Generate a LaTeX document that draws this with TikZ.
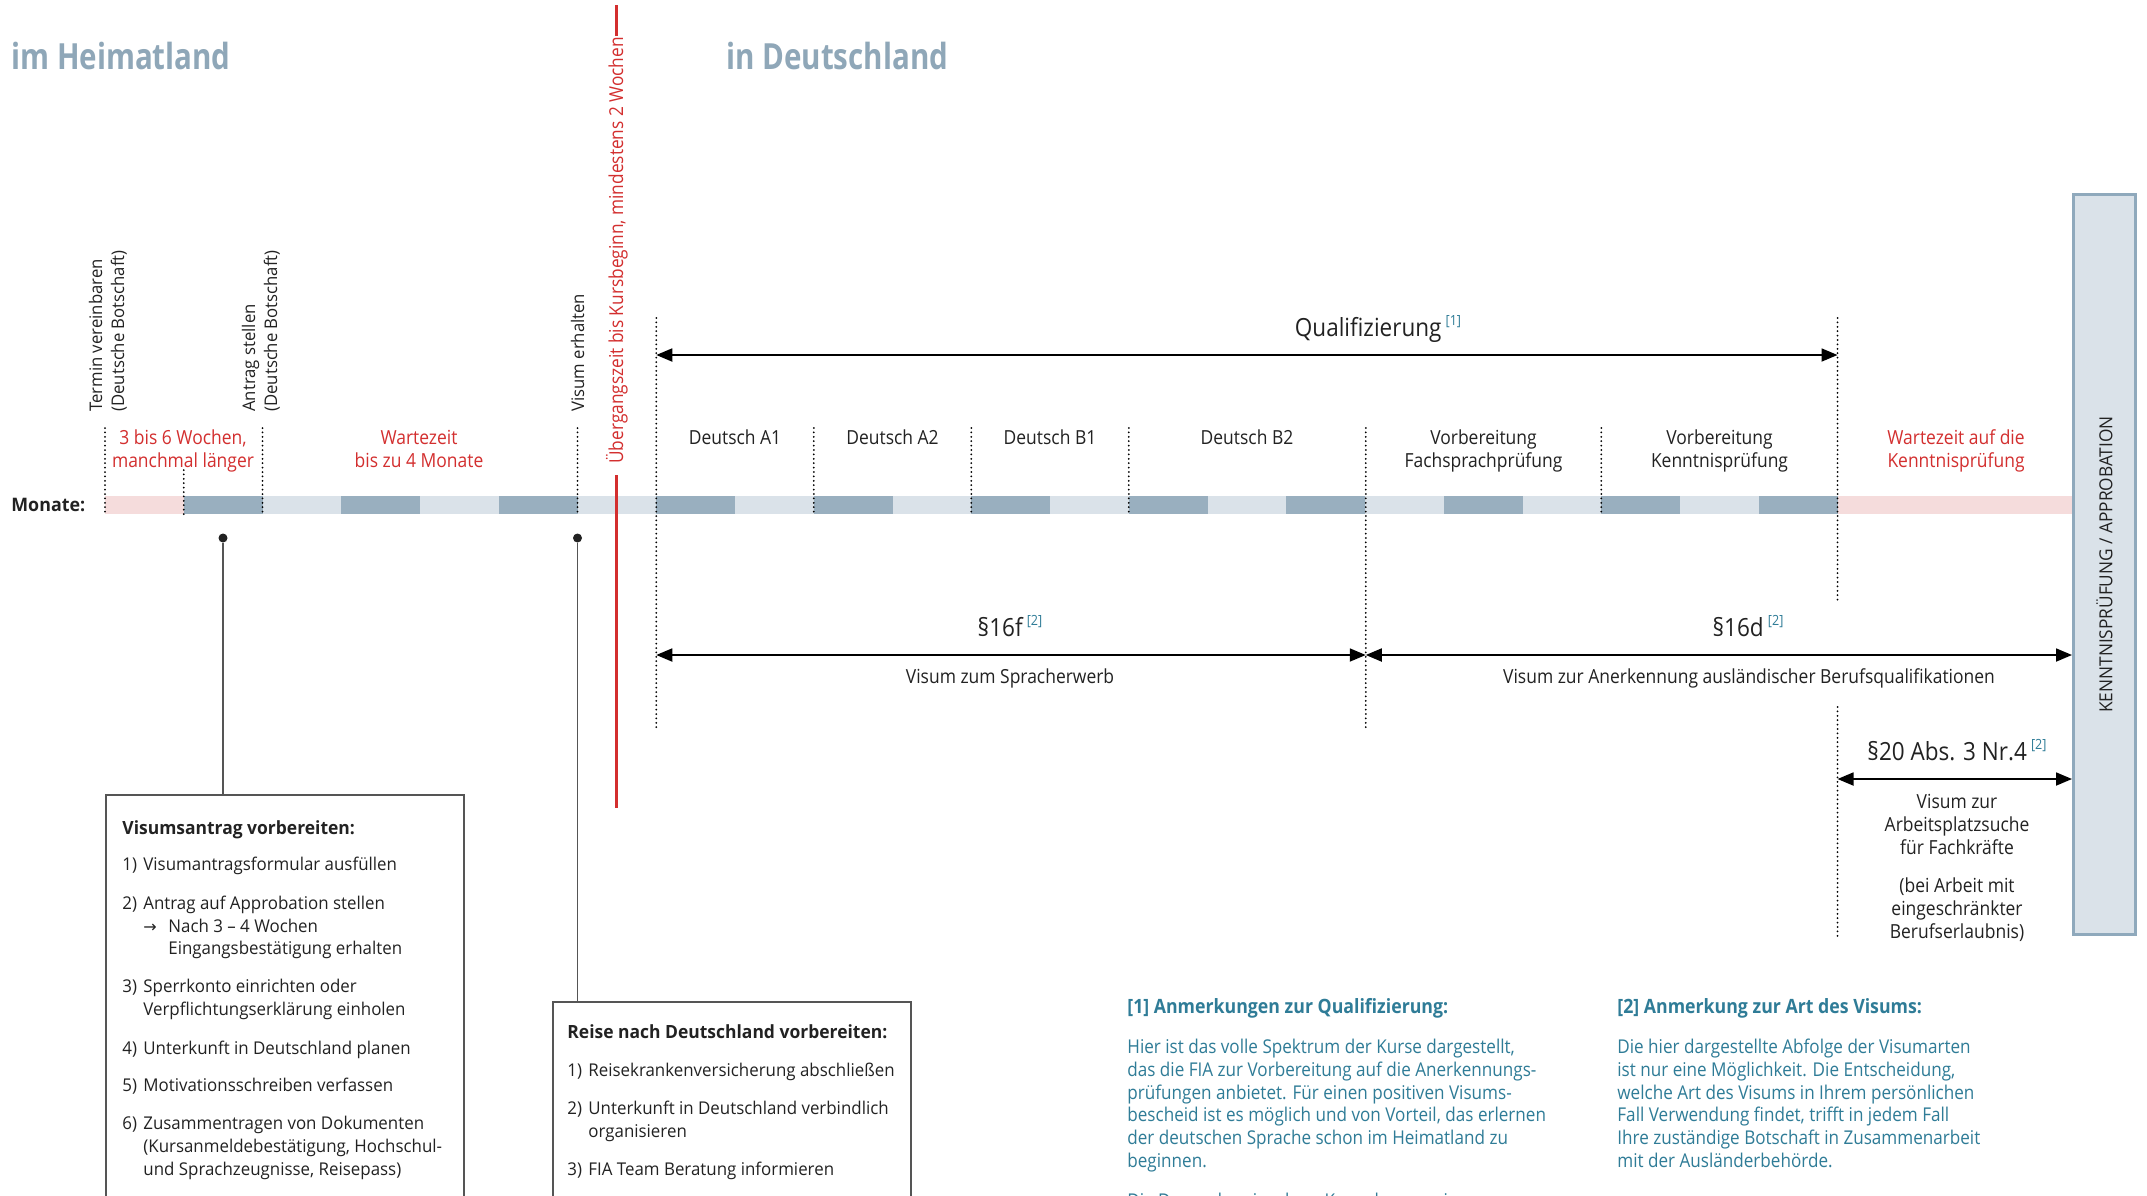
\documentclass[tikz,border=0pt]{standalone}
\usepackage{fontspec}
\setmainfont{Open Sans}
\newfontfamily\condfont[FakeStretch=0.9]{Open Sans}
\newfontfamily\regfont[FakeStretch=0.96]{Open Sans}
\newfontfamily\titlefont[FakeStretch=0.82]{Open Sans}
\newfontfamily\symfont{DejaVu Sans}
\usetikzlibrary{arrows.meta}
\definecolor{barDark}{HTML}{99AFBF}
\definecolor{barLight}{HTML}{DAE2E9}
\definecolor{barPink}{HTML}{F5DCDC}
\definecolor{redC}{HTML}{D32F2F}
\definecolor{titleC}{HTML}{8FA7B8}
\definecolor{noteC}{HTML}{2F7C97}
\definecolor{textC}{HTML}{222222}
\definecolor{boxBorder}{HTML}{8FA9BC}
\definecolor{boxEdge}{HTML}{555555}
\newcommand\fnref[1]{\,{\color{noteC}\condfont\fontsize{7}{8}\selectfont\raisebox{5.5pt}{[#1]}}}
\begin{document}
\begin{tikzpicture}[x=0.5pt,y=-0.5pt,
  lbl/.style={font=\condfont\fontsize{9.7}{11.5}\selectfont, text=textC, inner sep=0, anchor=base},
  redlbl/.style={lbl, text=redC},
  big/.style={font=\condfont\fontsize{12.5}{14}\selectfont, text=textC, inner sep=0, anchor=base},
  rot/.style={font=\regfont\fontsize{8.7}{10}\selectfont, rotate=90, anchor=base west, inner sep=0, text=textC},
  boxtxt/.style={font=\regfont\fontsize{8.8}{11}\selectfont, anchor=base west, inner sep=0, text=textC},
  boxhead/.style={boxtxt, font=\regfont\bfseries\fontsize{9.1}{11}\selectfont},
  note/.style={font=\condfont\fontsize{9.5}{11.5}\selectfont, anchor=base west, inner sep=0, text=noteC},
  notehead/.style={note, font=\condfont\bfseries\fontsize{9.85}{11.5}\selectfont},
  dots/.style={line width=1pt, dash pattern=on 0pt off 2.2pt, line cap=round, black},
  dimarrow/.style={line width=0.9pt, black, {Triangle[length=8pt,width=6.5pt]}-{Triangle[length=8pt,width=6.5pt]}},
  conn/.style={line width=0.7pt, boxEdge},
  infobox/.style={draw=boxEdge, line width=0.8pt, anchor=north west, inner sep=0},
  title/.style={font=\titlefont\bfseries\fontsize{18}{20}\selectfont, text=titleC, anchor=base west, inner sep=0},
]
\clip (0,0) rectangle (2147,1195);
\fill[white] (0,0) rectangle (2147,1195);

% titles
\node[title] (tHeim) at (11,69) {im Heimatland};
\node[title] (tDeu) at (726,69) {in Deutschland};

% month bar
\node[font=\regfont\bfseries\fontsize{9.3}{11}\selectfont, text=textC, anchor=base west, inner sep=0] (monate) at (11,511) {Monate:};
\fill[barPink] (105,496) rectangle (183.75,514);
\foreach \k in {1,3,...,21} \fill[barDark] ({105+\k*78.75},496) rectangle ({105+(\k+1)*78.75},514);
\foreach \k in {2,4,...,20} \fill[barLight] ({105+\k*78.75},496) rectangle ({105+(\k+1)*78.75},514);
\fill[barPink] (1837.5,496) rectangle (2073,514);

% short dotted lines
\foreach \x [count=\i] in {105,262.5,577.5,813.75,971.25,1128.75,1601.25} {
  \coordinate (sd\i a) at (\x,428); \coordinate (sd\i b) at (\x,514);
  \draw[dots] (sd\i a) -- (sd\i b);
}
\coordinate (sdxa) at (183.75,470); \coordinate (sdxb) at (183.75,514);
\draw[dots] (sdxa) -- (sdxb);
% long dotted lines
\coordinate (a1t) at (656.25,318); \coordinate (a1b) at (656.25,730);
\coordinate (f1t) at (1365.75,428); \coordinate (f1b) at (1365.75,730);
\coordinate (w1t) at (1837.5,318); \coordinate (w1b) at (1837.5,603);
\coordinate (w2t) at (1837.5,707); \coordinate (w2b) at (1837.5,937);
\draw[dots] (a1t) -- (a1b);
\draw[dots] (f1t) -- (f1b);
\draw[dots] (w1t) -- (w1b);
\draw[dots] (w2t) -- (w2b);

% red transition line
\coordinate (r1) at (616,5); \coordinate (r2) at (616,36);
\coordinate (r3) at (616,475); \coordinate (r4) at (616,808);
\draw[redC, line width=1.5pt] (r1) -- (r2);
\draw[redC, line width=1.5pt] (r3) -- (r4);
\node[font=\condfont\fontsize{9.6}{11}\selectfont, text=redC, rotate=90, anchor=base west, inner sep=0] (ueb) at (623,464) {Übergangszeit bis Kursbeginn, mindestens 2 Wochen};

% rotated labels
\node[rot] (rl1) at (102,412) {Termin vereinbaren};
\node[rot] (rl2) at (124,412) {(Deutsche Botschaft)};
\node[rot] (rl3) at (255,412) {Antrag stellen};
\node[rot] (rl4) at (277,412) {(Deutsche Botschaft)};
\node[rot] (rl5) at (584,412) {Visum erhalten};

% labels above bar
\node[redlbl] (w1) at (183,444) {3 bis 6 Wochen,};
\node[redlbl] (w2) at (183,467) {manchmal länger};
\node[redlbl] (w3) at (419,444) {Wartezeit};
\node[redlbl] (w4) at (419,467) {bis zu 4 Monate};
\node[lbl] (cA1) at (735,444) {Deutsch A1};
\node[lbl] (cA2) at (892.5,444) {Deutsch A2};
\node[lbl] (cB1) at (1050,444) {Deutsch B1};
\node[lbl] (cB2) at (1247,444) {Deutsch B2};
\node[lbl] (cF1) at (1483.5,444) {Vorbereitung};
\node[lbl] (cF2) at (1483.5,467) {Fachsprachprüfung};
\node[lbl] (cK1) at (1719.5,444) {Vorbereitung};
\node[lbl] (cK2) at (1719.5,467) {Kenntnisprüfung};
\node[redlbl] (cW1) at (1956,444) {Wartezeit auf die};
\node[redlbl] (cW2) at (1956,467) {Kenntnisprüfung};

% right box
\node[draw=boxBorder, fill=barLight, line width=1.5pt, rotate=90, minimum width=370pt, minimum height=31pt, inner sep=0, font=\regfont\fontsize{9}{10}\selectfont, text=textC] (kbox) at (2104.5,564.5) {KENNTNISPRÜFUNG / APPROBATION};

% Qualifizierung arrow
\coordinate (qL) at (656.25,355); \coordinate (qR) at (1837.5,355);
\draw[dimarrow] (qL) -- (qR);
\node[big] (qlab) at (1378,336) {Qualifizierung\fnref{1}};

% visa arrows
\coordinate (v1L) at (656.25,655); \coordinate (v1R) at (1365.75,655);
\coordinate (v2L) at (1365.75,655); \coordinate (v2R) at (kbox.north |- v2L);
\coordinate (v3L) at (1837.5,779); \coordinate (v3R) at (kbox.north |- v3L);
\draw[dimarrow] (v1L) -- (v1R);
\draw[dimarrow] (v2L) -- (v2R);
\draw[dimarrow] (v3L) -- (v3R);
\node[big] (p16f) at (1010,636) {§16f\fnref{2}};
\node[lbl] (v16f) at (1010,683) {Visum zum Spracherwerb};
\node[big] (p16d) at (1748,636) {§16d\fnref{2}};
\node[lbl] (v16d) at (1749,683) {Visum zur Anerkennung ausländischer Berufsqualifikationen};
\node[big] (p20) at (1957,760) {§20 Abs. 3 Nr.4\fnref{2}};
\node[lbl] (v20a) at (1957,808) {Visum zur};
\node[lbl] (v20b) at (1957,831) {Arbeitsplatzsuche};
\node[lbl] (v20c) at (1957,854) {für Fachkräfte};
\node[lbl] (v20d) at (1957,892) {(bei Arbeit mit};
\node[lbl] (v20e) at (1957,915) {eingeschränkter};
\node[lbl] (v20f) at (1957,938) {Berufserlaubnis)};

% info boxes
\node[infobox, minimum width=179pt, minimum height=220pt] (box1) at (105,794) {};
\node[infobox, minimum width=179pt, minimum height=120pt] (box2) at (552,1001) {};
\node[circle, fill=textC, inner sep=0, minimum size=4.5pt] (dot1) at (223,538) {};
\node[circle, fill=textC, inner sep=0, minimum size=4.5pt] (dot2) at (577.5,538) {};
\draw[conn] (dot1) -- (dot1 |- box1.north);
\draw[conn] (dot2) -- (dot2 |- box2.north);

% box 1 text
\node[boxhead] (b1h) at (122,834) {Visumsantrag vorbereiten:};
\node[boxtxt] (b1n1) at (122,870) {1)};
\node[boxtxt] (b1t1) at (143,870) {Visumantragsformular ausfüllen};
\node[boxtxt] (b1n2) at (122,909) {2)};
\node[boxtxt] (b1t2) at (143,909) {Antrag auf Approbation stellen};
\node[boxtxt] (b1ar) at (143,932) {{\symfont\fontsize{8}{9}\selectfont →}};
\node[boxtxt] (b1t2b) at (168,932) {Nach 3 – 4 Wochen};
\node[boxtxt] (b1t2c) at (168,954) {Eingangsbestätigung erhalten};
\node[boxtxt] (b1n3) at (122,992) {3)};
\node[boxtxt] (b1t3) at (143,992) {Sperrkonto einrichten oder};
\node[boxtxt] (b1t3b) at (143,1015) {Verpflichtungserklärung einholen};
\node[boxtxt] (b1n4) at (122,1054) {4)};
\node[boxtxt] (b1t4) at (143,1054) {Unterkunft in Deutschland planen};
\node[boxtxt] (b1n5) at (122,1091) {5)};
\node[boxtxt] (b1t5) at (143,1091) {Motivationsschreiben verfassen};
\node[boxtxt] (b1n6) at (122,1129) {6)};
\node[boxtxt] (b1t6) at (143,1129) {Zusammentragen von Dokumenten};
\node[boxtxt] (b1t6b) at (143,1152) {(Kursanmeldebestätigung, Hochschul-};
\node[boxtxt] (b1t6c) at (143,1175) {und Sprachzeugnisse, Reisepass)};

% box 2 text
\node[boxhead] (b2h) at (567,1038) {Reise nach Deutschland vorbereiten:};
\node[boxtxt] (b2n1) at (567,1076) {1)};
\node[boxtxt] (b2t1) at (588,1076) {Reisekrankenversicherung abschließen};
\node[boxtxt] (b2n2) at (567,1114) {2)};
\node[boxtxt] (b2t2) at (588,1114) {Unterkunft in Deutschland verbindlich};
\node[boxtxt] (b2t2b) at (588,1137) {organisieren};
\node[boxtxt] (b2n3) at (567,1175) {3)};
\node[boxtxt] (b2t3) at (588,1175) {FIA Team Beratung informieren};

% notes
\node[notehead] (n1h) at (1127,1013) {[1] Anmerkungen zur Qualifizierung:};
\node[note] (n1a) at (1127,1053) {Hier ist das volle Spektrum der Kurse dargestellt,};
\node[note] (n1b) at (1127,1076) {das die FIA zur Vorbereitung auf die Anerkennungs-};
\node[note] (n1c) at (1127,1099) {prüfungen anbietet. Für einen positiven Visums-};
\node[note] (n1d) at (1127,1121) {bescheid ist es möglich und von Vorteil, das erlernen};
\node[note] (n1e) at (1127,1144) {der deutschen Sprache schon im Heimatland zu};
\node[note] (n1f) at (1127,1167) {beginnen.};
\node[note] (n1g) at (1127,1207) {Die Dauer der einzelnen Kurse kann vari-};
\node[notehead] (n2h) at (1617,1013) {[2] Anmerkung zur Art des Visums:};
\node[note] (n2a) at (1617,1053) {Die hier dargestellte Abfolge der Visumarten};
\node[note] (n2b) at (1617,1076) {ist nur eine Möglichkeit. Die Entscheidung,};
\node[note] (n2c) at (1617,1099) {welche Art des Visums in Ihrem persönlichen};
\node[note] (n2d) at (1617,1121) {Fall Verwendung findet, trifft in jedem Fall};
\node[note] (n2e) at (1617,1144) {Ihre zuständige Botschaft in Zusammenarbeit};
\node[note] (n2f) at (1617,1167) {mit der Ausländerbehörde.};
\end{tikzpicture}
\end{document}
